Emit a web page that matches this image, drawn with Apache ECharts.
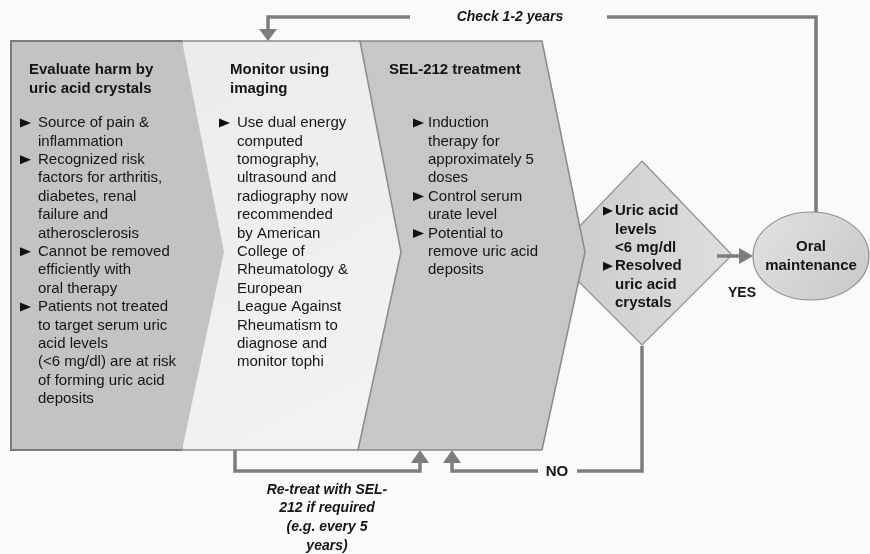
<!DOCTYPE html>
<html><head><meta charset="utf-8">
<script src="https://cdn.jsdelivr.net/npm/echarts@6/dist/echarts.min.js"></script>
<style>html,body{margin:0;padding:0;background:#fafafa}#c{width:870px;height:554px}</style>
</head><body><div id="c"></div>
<script>
// ---- content ----
const panelTitles = [["Evaluate harm by","uric acid crystals"],["Monitor using","imaging"],["SEL-212 treatment"]];
const panelBullets = [
 [["Source of pain &","inflammation"],["Recognized risk","factors for arthritis,","diabetes, renal","failure and","atherosclerosis"],["Cannot be removed","efficiently with","oral therapy"],["Patients not treated","to target serum uric","acid levels","(<6 mg/dl) are at risk","of forming uric acid","deposits"]],
 [["Use dual energy","computed","tomography,","ultrasound and","radiography now","recommended","by American","College of","Rheumatology &","European","League Against","Rheumatism to","diagnose and","monitor tophi"]],
 [["Induction","therapy for","approximately 5","doses"],["Control serum","urate level"],["Potential to","remove uric acid","deposits"]]
];
const decisionBullets = [["Uric acid","levels","<6 mg/dl"],["Resolved","uric acid","crystals"]];
const endLabel = ["Oral","maintenance"];
const loopLabel = "Check 1-2 years";
const retreatLabel = ["Re-treat with SEL-","212 if required","(e.g. every 5","years)"];
const yesLabel = "YES";
const noLabel = "NO";

// ---- layout ----
const FONT = '"Liberation Sans", Arial, Helvetica, sans-serif';
const LH = 18.4;
const LINE = '#7d7d7d';
const TXT = '#151515';
const els = [];
function txt(s, x, y, opt) {
  opt = opt || {};
  els.push({type:'text', x:x, y:y, z:opt.z||20, style:{text:s, fill:opt.fill||TXT,
    font:(opt.style||'normal')+' '+(opt.weight||'normal')+' '+(opt.size||15)+'px '+FONT,
    textAlign:opt.align||'left', align:opt.align||'left', textVerticalAlign:'middle', verticalAlign:'middle'}});
}
function bullet(x, y, w, h) {
  els.push({type:'polygon', z:20, shape:{points:[[x,y-h/2],[x+w,y],[x,y+h/2]]}, style:{fill:'#111'}});
}
function grad(c1, c2, x2, y2) {
  return new echarts.graphic.LinearGradient(0,0,x2===undefined?1:x2,y2===undefined?1:y2,[{offset:0,color:c1},{offset:1,color:c2}]);
}
const Y0 = 41, Y1 = 450, TIPY = 252;
// diamond (behind panel 3)
els.push({type:'polygon', z:1, shape:{points:[[642,161],[732,255],[642,345],[552,255]]},
  style:{fill:grad('#cbcbcb','#dedede',1,0), stroke:'#8f8f8f', lineWidth:1.2}});
// panel 3
els.push({type:'polygon', z:2, shape:{points:[[360,Y0],[542,Y0],[585,TIPY],[542,Y1],[358,Y1]]},
  style:{fill:'#c7c7c7', stroke:'#8a8a8a', lineWidth:1.5}});
// panel 2
els.push({type:'polygon', z:3, shape:{points:[[182,Y0],[360,Y0],[401,TIPY],[358,Y1],[182,Y1]]},
  style:{fill:grad('#ebebeb','#f3f3f3'), stroke:'#8a8a8a', lineWidth:1.5}});
// panel 1
els.push({type:'polygon', z:4, shape:{points:[[11,Y0],[182,Y0],[224,TIPY],[182,Y1],[11,Y1]]},
  style:{fill:'#c3c3c3', stroke:null}});
els.push({type:'polyline', z:5, shape:{points:[[182,Y0],[11,Y0],[11,Y1],[182,Y1]]},
  style:{stroke:'#7a7a7a', lineWidth:2, fill:null}});
// ellipse
els.push({type:'ellipse', z:4, shape:{cx:811, cy:256, rx:58, ry:44},
  style:{fill:grad('#e2e2e2','#c8c8c8'), stroke:'#8f8f8f', lineWidth:1.2}});

// panel texts
const titleX = [29, 230, 389], bulX = [20, 219, 413], textX = [38, 237, 428];
panelTitles.forEach((lines, p) => lines.forEach((s, i) => txt(s, titleX[p], 70 + i*LH, {weight:'bold'})));
panelBullets.forEach((groups, p) => {
  let row = 0;
  groups.forEach(g => {
    bullet(bulX[p], 123 + row*LH, 11, 9);
    g.forEach(s => { txt(s, textX[p], 123 + row*LH); row++; });
  });
});
// diamond text
let drow = 0;
decisionBullets.forEach(g => {
  bullet(603, 211 + drow*LH, 10, 9);
  g.forEach(s => { txt(s, 615, 211 + drow*LH, {weight:'bold'}); drow++; });
});
endLabel.forEach((s, i) => txt(s, 811, 247 + i*LH, {weight:'bold', align:'center'}));

// connectors
function pl(pts) { els.push({type:'polyline', z:10, shape:{points:pts}, style:{stroke:LINE, lineWidth:3.5, fill:null}}); }
function tri(pts) { els.push({type:'polygon', z:10, shape:{points:pts}, style:{fill:LINE}}); }
pl([[816,212],[816,17],[607,17]]);
pl([[410,17],[268,17],[268,30]]);
tri([[259,29],[277,29],[268,41]]);
txt(loopLabel, 510, 17, {weight:'bold', style:'italic', size:14, align:'center'});
// yes
pl([[717,256],[741,256]]);
tri([[739,248],[739,264],[753,256]]);
txt(yesLabel, 742, 293, {weight:'bold', size:14, align:'center'});
// retreat loop
pl([[235,450],[235,471],[420,471],[420,461]]);
tri([[411,463],[429,463],[420,450]]);
// no loop
pl([[642,346],[642,471],[577,471]]);
pl([[538,471],[452,471],[452,461]]);
tri([[443,463],[461,463],[452,450]]);
txt(noLabel, 557, 472, {weight:'bold', size:15, align:'center'});
retreatLabel.forEach((s, i) => txt(s, 327, 490 + i*18.6, {weight:'bold', style:'italic', size:14, align:'center'}));

const chart = echarts.init(document.getElementById('c'), null, {renderer:'canvas'});
chart.setOption({backgroundColor:'#fafafa', animation:false, graphic:{elements:els}});
</script></body></html>
